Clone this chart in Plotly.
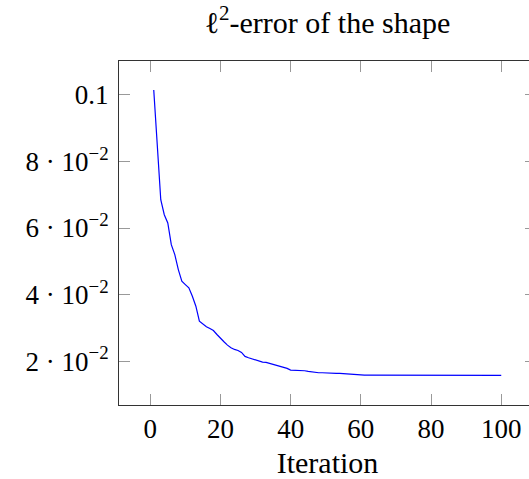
import plotly.graph_objects as go

iterations = list(range(1, 101))
error = [
    0.1015, 0.0855, 0.0685, 0.0640, 0.0615, 0.0550, 0.0520, 0.0475, 0.0440, 0.0430,
    0.0420, 0.0395, 0.0365, 0.0320, 0.0310, 0.0303, 0.0298, 0.0292, 0.0280, 0.0268,
    0.0258, 0.0248, 0.0240, 0.0235, 0.0232, 0.0226, 0.0214, 0.0210, 0.0207, 0.0204,
    0.0199, 0.0197, 0.0196, 0.0193, 0.0190, 0.0188, 0.0186, 0.0183, 0.0178, 0.0173,
    0.0173, 0.0172, 0.0172, 0.0171, 0.0169, 0.0167, 0.0166, 0.0165, 0.0165, 0.0164,
    0.0164, 0.0163, 0.0163, 0.0163, 0.0162, 0.0162, 0.0161, 0.0160, 0.0159, 0.0159,
    0.0158, 0.0158, 0.0158, 0.0158, 0.0158, 0.0158, 0.0158, 0.0158, 0.0158, 0.0157,
    0.0157, 0.0157, 0.0157, 0.0157, 0.0157, 0.0157, 0.0157, 0.0157, 0.0157, 0.0157,
    0.0156, 0.0156, 0.0156, 0.0156, 0.0156, 0.0156, 0.0156, 0.0156, 0.0156, 0.0156,
    0.0156, 0.0156, 0.0156, 0.0156, 0.0157, 0.0157, 0.0157, 0.0157, 0.0157, 0.0157,
]
x_ticks = [0, 20, 40, 60, 80, 100]
y_ticks = [0.02, 0.04, 0.06, 0.08, 0.1]
y_tick_labels = ["2 · 10<sup>−2</sup>", "4 · 10<sup>−2</sup>", "6 · 10<sup>−2</sup>",
                 "8 · 10<sup>−2</sup>", "0.1"]

FONT = "Liberation Serif, DejaVu Serif, serif"
FS = 27
FS_TITLE = 30

fig = go.Figure(go.Scatter(x=iterations, y=error, mode="lines",
                           line=dict(color="#0000ff", width=1.2),
                           showlegend=False))

axis_common = dict(showgrid=False, zeroline=False, showline=True, linecolor="#333333",
                   linewidth=1, ticks="inside", ticklen=11, tickcolor="#999999",
                   tickwidth=1, mirror="allticks",
                   tickfont=dict(family=FONT, size=FS, color="black"))

fig.update_layout(
    width=537, height=479,
    margin=dict(l=119, r=1, t=61, b=74),
    paper_bgcolor="white", plot_bgcolor="white",
    title=dict(text="ℓ<sup>2</sup>-error of the shape", x=(119 + 536) / 2 / 537,
               xanchor="center", xref="container",
               y=1 - 22 / 479, yanchor="middle", yref="container",
               font=dict(family=FONT, size=FS_TITLE, color="black")),
    xaxis=dict(range=[-8.9, 109.9], tickvals=x_ticks,
               title=dict(text="Iteration",
                          font=dict(family=FONT, size=FS_TITLE, color="black"),
                          standoff=8),
               **axis_common),
    yaxis=dict(range=[0.0068, 0.1102], tickvals=y_ticks, ticktext=y_tick_labels,
               ticklabelstandoff=4,
               **axis_common),
)

fig.write_html("out.html",
               config={"displayModeBar": False},
               post_script="document.documentElement.style.overflow='hidden';"
                           "document.body.style.overflow='hidden';"
                           "document.body.style.margin='0';")
